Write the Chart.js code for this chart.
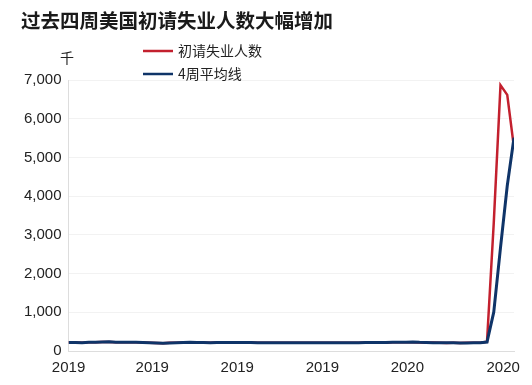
<!DOCTYPE html>
<html>
<head>
<meta charset="utf-8">
<script src="https://cdn.jsdelivr.net/npm/chart.js@4"></script>
<style>
  html, body { margin: 0; padding: 0; background: #fff; }
  #wrap { width: 532px; height: 385px; position: relative; }
</style>
</head>
<body>
<div id="wrap"><canvas id="chart" width="532" height="385"></canvas></div>
<script>
// ===== Data (thousands, weekly, Jan 2019 - Apr 2020) =====
const titleText = "过去四周美国初请失业人数大幅增加";
const unitText = "千";
const seriesNames = ["初请失业人数", "4周平均线"];

const claims = [
  223, 219, 214, 228, 226, 232, 232, 227, 225, 224, 223, 218, 212, 206, 203, 210,
  215, 222, 222, 218, 216, 215, 218, 217, 222, 221, 216, 218, 212, 213, 211, 214,
  212, 214, 215, 210, 212, 212, 214, 213, 214, 213, 215, 213, 218, 221, 217, 214,
  228, 227, 226, 228, 220, 215, 218, 214, 209, 210, 209, 212, 214, 211, 240, 3307,
  6867, 6615, 5245
];

const avg4 = [
  221, 220, 215, 225, 225, 231, 236, 229, 226, 223, 225, 221, 216, 208, 201, 205,
  212, 220, 225, 220, 217, 214, 217, 218, 221, 222, 218, 218, 213, 212, 212, 213,
  213, 213, 215, 211, 212, 212, 212, 214, 214, 214, 214, 214, 217, 220, 219, 217,
  224, 226, 228, 232, 223, 219, 216, 214, 211, 211, 209, 209, 213, 212, 232, 1004,
  2668, 4268, 5509
];

// x tick positions (week index) and their labels
const xTickPos = [0, 12.4, 25, 37.6, 50.2, 64.4];
const xTickLabels = ["2019", "2019", "2019", "2019", "2020", "2020"];

const yTicks = [0, 1000, 2000, 3000, 4000, 5000, 6000, 7000];

const colors = ["#c3202e", "#0f3468"];

// ===== Build points =====
const toPoints = arr => arr.map((v, i) => ({ x: i, y: v }));

// ===== Plugin: title, unit, legend =====
const extras = {
  id: "extras",
  afterDraw(chart) {
    const ctx = chart.ctx;
    ctx.save();
    ctx.fillStyle = "#1a1a1a";
    ctx.font = "bold 19.5px 'Noto Sans CJK SC'";
    ctx.textBaseline = "middle";
    ctx.textAlign = "left";
    ctx.fillText(titleText, 21, 21);

    ctx.font = "14px 'Noto Sans CJK SC'";
    ctx.fillStyle = "#222";
    ctx.textAlign = "center";
    ctx.fillText(unitText, 67, 58);

    ctx.textAlign = "left";
    seriesNames.forEach((name, i) => {
      const y = 51 + i * 23;
      ctx.strokeStyle = colors[i];
      ctx.lineWidth = 2.5;
      ctx.beginPath();
      ctx.moveTo(143, y);
      ctx.lineTo(173, y);
      ctx.stroke();
      ctx.fillStyle = "#222";
      ctx.fillText(name, 178, y);
    });
    ctx.restore();
  }
};

const ctx = document.getElementById("chart").getContext("2d");

new Chart(ctx, {
  type: "line",
  data: {
    datasets: [
      {
        label: seriesNames[0],
        data: toPoints(claims),
        borderColor: colors[0],
        borderWidth: 2.5,
        pointRadius: 0,
        tension: 0,
        order: 1
      },
      {
        label: seriesNames[1],
        data: toPoints(avg4),
        borderColor: colors[1],
        borderWidth: 3,
        pointRadius: 0,
        tension: 0,
        order: 0
      }
    ]
  },
  options: {
    responsive: false,
    animation: false,
    layout: { padding: { left: 17, right: 18, top: 80, bottom: 0 } },
    plugins: {
      legend: { display: false },
      title: { display: false },
      tooltip: { enabled: false }
    },
    scales: {
      x: {
        type: "linear",
        min: 0,
        max: claims.length - 1,
        afterBuildTicks: axis => {
          axis.ticks = xTickPos.map(v => ({ value: v }));
        },
        ticks: {
          autoSkip: false,
          maxRotation: 0,
          color: "#222",
          font: { family: "Liberation Sans, Arial", size: 15 },
          padding: 8,
          callback: (v, i) => xTickLabels[i]
        },
        grid: { display: false, drawTicks: false },
        border: { display: true, color: "#dddddd", width: 1 }
      },
      y: {
        min: 0,
        max: 7000,
        afterBuildTicks: axis => {
          axis.ticks = yTicks.map(v => ({ value: v }));
        },
        ticks: {
          color: "#222",
          font: { family: "Liberation Sans, Arial", size: 15 },
          padding: 7,
          callback: v => v.toLocaleString("en-US")
        },
        grid: { color: "#f2f2f2", drawTicks: false },
        border: { display: true, color: "#dddddd", width: 1 }
      }
    }
  },
  plugins: [extras]
});
</script>
</body>
</html>
